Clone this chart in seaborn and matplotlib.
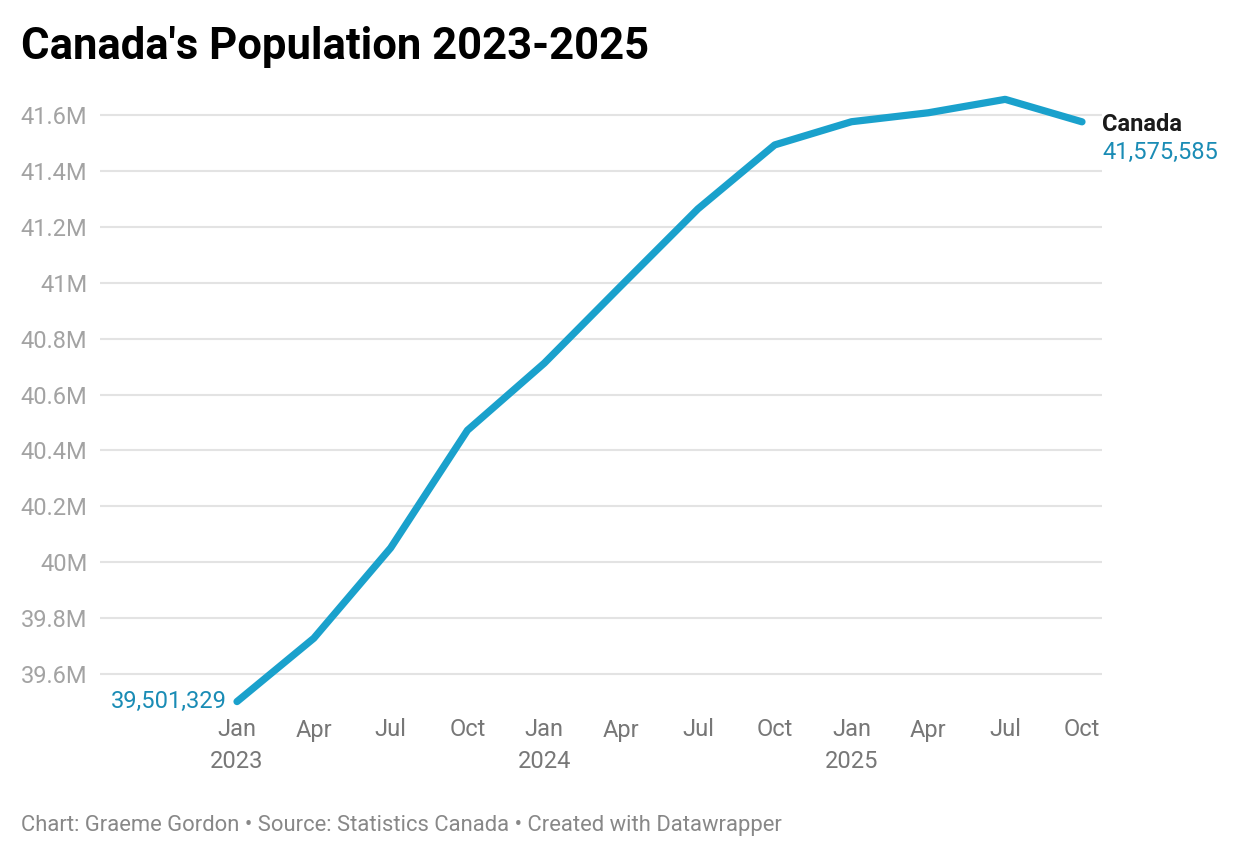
import matplotlib
matplotlib.use("Agg")
import matplotlib.pyplot as plt
import seaborn as sns
import pandas as pd
import numpy as np

# Data
quarters = ["Jan 2023", "Apr 2023", "Jul 2023", "Oct 2023",
            "Jan 2024", "Apr 2024", "Jul 2024", "Oct 2024",
            "Jan 2025", "Apr 2025", "Jul 2025", "Oct 2025"]
population = [39501329, 39728000, 40051000, 40472000,
              40712000, 40989000, 41264000, 41493000,
              41576000, 41608000, 41656000, 41575585]
tick_labels = ["Jan\n2023", "Apr", "Jul", "Oct",
               "Jan\n2024", "Apr", "Jul", "Oct",
               "Jan\n2025", "Apr", "Jul", "Oct"]
y_ticks = [39.6e6, 39.8e6, 40.0e6, 40.2e6, 40.4e6, 40.6e6,
           40.8e6, 41.0e6, 41.2e6, 41.4e6, 41.6e6]
series_name = "Canada"

df = pd.DataFrame({"idx": range(len(quarters)), "quarter": quarters,
                   "population": population})

sns.set_theme(style="white")
plt.rcParams["font.family"] = ["Roboto", "DejaVu Sans"]

W, H = 1240, 858
fig = plt.figure(figsize=(W / 100, H / 100), dpi=100)
left_px, right_px = 100, 1102
top_px, bottom_px = 95, 706
ax = fig.add_axes([left_px / W, 1 - bottom_px / H,
                   (right_px - left_px) / W, (bottom_px - top_px) / H])

line_color = "#1aa1cc"
label_blue = "#1a8cb5"

sns.lineplot(data=df, x="idx", y="population", ax=ax, color=line_color,
             linewidth=5.2, solid_capstyle="round", solid_joinstyle="round",
             zorder=3)

px_per_q = (1082 - 237) / 11
ax.set_xlim(-(237 - left_px) / px_per_q, 11 + (right_px - 1082) / px_per_q)
px_per_unit = (674 - 115) / 2.0e6
ymax = 41.6e6 + (115 - top_px) / px_per_unit
ymin = 39.6e6 - (bottom_px - 674) / px_per_unit
ax.set_ylim(ymin, ymax)

ax.set_yticks(y_ticks)
def fmt(v):
    s = f"{v/1e6:.1f}"
    if s.endswith(".0"):
        s = s[:-2]
    return s + "M"
ax.set_yticklabels([fmt(v) for v in y_ticks])
ax.set_xticks(df["idx"])
ax.set_xticklabels(tick_labels)

ax.grid(axis="y", color="#e3e3e3", linewidth=1.5, zorder=0)
ax.grid(axis="x", visible=False)
for s in ax.spines.values():
    s.set_visible(False)

ax.tick_params(axis="y", length=0, pad=9, labelsize=17, labelcolor="#a3a3a3")
ax.tick_params(axis="x", length=0, pad=9, labelsize=17, labelcolor="#777777")
for t in ax.get_xticklabels():
    t.set_linespacing(1.48)
    t.set_verticalalignment("top")
ax.set_xlabel("")
ax.set_ylabel("")

first_val = population[0]
last_val = population[-1]
ax.annotate(f"{first_val:,}", xy=(0, first_val), xytext=(-10, 0),
            textcoords="offset pixels", ha="right", va="center",
            fontsize=17, color=label_blue)
ax.annotate(series_name, xy=(11, last_val), xytext=(20, -3),
            textcoords="offset pixels", ha="left", va="center",
            fontsize=17, fontweight="bold", color="#1a1a1a",
            annotation_clip=False)
ax.annotate(f"{last_val:,}", xy=(11, last_val), xytext=(20, -31),
            textcoords="offset pixels", ha="left", va="center",
            fontsize=17, color=label_blue, annotation_clip=False)

fig.text(21 / W, 1 - 47 / H, "Canada's Population 2023-2025",
         fontsize=31.4, fontweight="bold", color="#000000",
         ha="left", va="center")
fig.text(21 / W, 1 - 825 / H,
         "Chart: Graeme Gordon \u2022 Source: Statistics Canada \u2022 Created with Datawrapper",
         fontsize=15.8, color="#888888", ha="left", va="center")

fig.savefig("out.png", dpi=100, facecolor="white")
